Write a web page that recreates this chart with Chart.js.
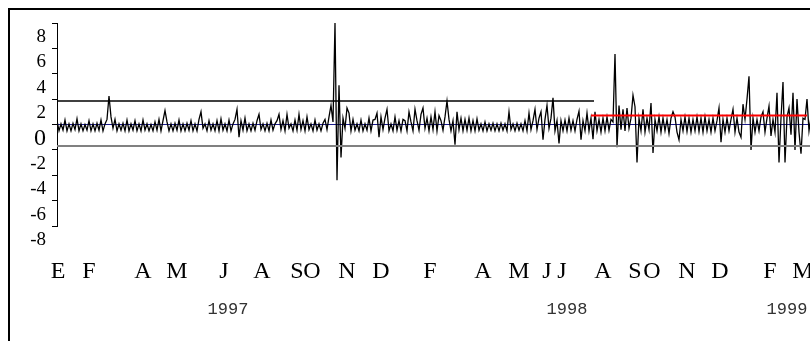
<!DOCTYPE html>
<html>
<head>
<meta charset="utf-8">
<script src="https://cdn.jsdelivr.net/npm/chart.js@4.4.0/dist/chart.umd.min.js"></script>
<style>
  html, body { margin: 0; padding: 0; background: #fff; overflow: hidden; width: 810px; height: 341px; }
  #wrap { width: 870px; height: 341px; }
</style>
</head>
<body>
<div id="wrap"><canvas id="myReturnsChart" width="870" height="341"></canvas></div>
<script>
// daily series, one value per observation (index = observation number)
const returns = [
  0.3, -0.5, 0.05, -0.45, 0.35, -0.5, 0.05, -0.5, 0.1, -0.4, 0.45, -0.5, 0.05, -0.5, 0.0, -0.45, 0.3, -0.5, 0.05, -0.5,
  0.1, -0.45, 0.35, -0.5, 0.05, 0.4, 2.25, 0.6, -0.3, 0.4, -0.5, 0.05, -0.45, 0.1, -0.5, 0.35, -0.5, 0.05, -0.45, 0.3,
  -0.5, 0.05, -0.5, 0.35, -0.45, 0.05, -0.5, 0.0, -0.5, 0.2, -0.45, 0.4, -0.5, 0.3, 1.1, 0.2, -0.5, 0.05, -0.5, 0.1,
  -0.45, 0.35, -0.5, 0.05, -0.5, 0.1, -0.45, 0.3, -0.5, 0.05, -0.5, 0.4, 1.0, -0.3, 0.05, -0.5, 0.3, -0.45, 0.05, -0.5,
  0.3, -0.5, 0.45, -0.45, 0.05, -0.5, 0.35, -0.5, 0.05, 0.4, 1.2, -1.0, 0.3, -0.45, 0.5, -0.5, 0.05, -0.5, 0.1, -0.45,
  0.3, 0.8, -0.4, 0.05, -0.5, 0.1, -0.5, 0.35, -0.45, 0.05, 0.3, 0.8, -0.4, 0.3, -0.5, 0.8, -0.3, 0.05, -0.5, 0.35,
  -0.45, 0.8, -0.4, 0.3, -0.5, 0.6, -0.4, 0.05, -0.5, 0.35, -0.45, 0.05, -0.5, 0.1, 0.4, -0.4, 0.6, 1.5, 0.2, 8.0,
  -4.4, 3.1, -2.6, 0.5, -0.3, 1.3, 0.9, -0.5, 0.4, -0.45, 0.05, -0.5, 0.35, -0.5, 0.05, -0.45, 0.5, -0.5, 0.35, 0.4,
  0.9, -1.0, 0.6, -0.4, 0.5, 1.2, -0.5, 0.05, -0.5, 0.6, -0.45, 0.3, -0.5, 0.4, 0.3, -0.5, 1.0, 0.2, -0.5, 1.2,
  0.3, -0.45, 0.8, 1.3, -0.3, 0.5, -0.5, 0.6, -0.4, 1.0, -0.5, 0.7, 0.3, -0.45, 0.6, 1.85, 0.4, -0.5, 0.3, -1.6,
  1.0, -0.4, 0.5, -0.5, 0.4, -0.45, 0.5, -0.5, 0.3, -0.5, 0.45, -0.45, 0.05, -0.5, 0.2, -0.5, 0.05, -0.45, 0.1, -0.5,
  0.05, -0.5, 0.1, -0.45, 0.05, -0.5, 1.0, -0.4, 0.05, -0.5, 0.1, -0.45, 0.05, -0.5, 0.3, -0.5, 0.9, -0.4, 0.3, 1.2,
  -0.4, 0.5, 1.0, -1.2, 0.4, 1.5, -0.3, 0.5, 2.1, -0.5, 0.3, -1.5, 0.3, -0.5, 0.35, -0.5, 0.5, -0.45, 0.3, -0.5,
  0.4, 1.05, -1.2, 0.3, -0.5, 0.9, -0.5, 0.5, -1.15, 1.0, -0.5, 0.4, -0.6, 0.5, -0.5, 0.6, -0.45, 0.4, 0.2, 5.55,
  -1.8, 1.5, -0.4, 1.2, -0.5, 1.3, -0.3, 0.5, 2.3, 1.4, -3.0, 0.5, -0.5, 1.2, -0.6, 0.5, -0.4, 1.7, -2.25, 0.4,
  -0.5, 0.6, -0.6, 0.5, -0.5, 0.4, -0.7, 0.5, 1.0, 0.6, -0.6, -1.2, 0.4, -0.5, 0.6, -0.55, 0.5, -0.6, 0.4, -0.5,
  0.6, -0.55, 0.5, -0.6, 0.6, -0.5, 0.4, -0.6, 0.5, -0.5, 0.3, 1.3, -1.4, 0.4, -0.6, 0.5, -0.5, 0.4, 1.2, -0.6,
  0.5, -0.6, -1.0, 1.6, 0.4, 2.0, 3.8, -2.0, 0.5, -0.6, 0.4, -0.5, 0.6, 1.0, -0.6, 0.5, 1.45, -0.9, 0.4, -0.6,
  2.5, -3.0, 0.5, 3.35, -3.0, 0.6, 1.3, -0.8, 2.5, -2.0, 2.0, -0.6, -2.3, 0.5, 0.4, 2.0, -0.5, 0.6, -0.6, 0.5,
  -0.5, 0.6, -0.6, 0.5, -0.5, 0.4, -0.6, 0.5, -0.5, 0.4,
];

// month initials (Spanish) and the observation where each month starts
const monthLabels = ["E", "F", "A", "M", "J", "A", "S", "O", "N", "D", "F", "A", "M", "J", "J", "A", "S", "O", "N", "D", "F", "M"];
const monthTicks = [0.5, 16, 43, 60, 83.5, 102.5, 120, 127.5, 145, 162, 186.5, 213, 231, 245, 252.5, 273, 289, 297.5, 315, 331.5, 356.5, 373];
const yearLabels = ["1997", "1998", "1999"];
const yearTicks = [85.5, 255, 365];

// control limits: level and [start, end] observation
const meanLevel = 0;
const meanSpan = [0, 400];
const upperLimit = 1.85;
const upperSpan = [0, 268.5];
const upperLimitNew = 0.71;
const upperNewSpan = [267, 375];
const lowerLimit = -1.7;
const lowerSpan = [0, 400];

const flatLine = (level, span) => span.map((x) => ({ x: x, y: level }));

const framePlugin = {
  id: "frame",
  afterDraw(chart) {
    const ctx = chart.ctx;
    ctx.save();
    ctx.strokeStyle = "#000";
    ctx.lineWidth = 2;
    ctx.strokeRect(9, 9, 1200, 1200);
    ctx.restore();
  },
};

const myReturnsChart = document.getElementById("myReturnsChart").getContext("2d");
const chart = new Chart(myReturnsChart, {
  type: "line",
  data: {
    datasets: [
      {
        data: flatLine(upperLimitNew, upperNewSpan),
        borderColor: "#ff0000",
        borderWidth: 2,
      },
      {
        data: flatLine(upperLimit, upperSpan),
        borderColor: "#000000",
        borderWidth: 1.5,
      },
      {
        data: flatLine(lowerLimit, lowerSpan),
        borderColor: "#808080",
        borderWidth: 2,
      },
      {
        data: returns.map((v, i) => ({ x: i, y: v })),
        borderColor: "#000000",
        borderWidth: 1.3,
      },
      {
        data: flatLine(meanLevel, meanSpan),
        borderColor: "#1a1a8c",
        borderWidth: 1,
      },
    ],
  },
  options: {
    responsive: false,
    animation: false,
    layout: {
      padding: { top: 23, right: 13, bottom: 18, left: 0 },
    },
    elements: {
      point: { radius: 0 },
      line: { tension: 0 },
    },
    plugins: {
      legend: { display: false },
      tooltip: { enabled: false },
    },
    scales: {
      x: {
        type: "linear",
        position: "bottom",
        min: 0,
        max: 400,
        grid: { display: false, drawTicks: false },
        border: { display: false },
        afterBuildTicks: (scale) => {
          scale.ticks = monthTicks.map((v) => ({ value: v }));
        },
        afterFit: (scale) => {
          scale.height = 67;
        },
        ticks: {
          autoSkip: false,
          maxRotation: 0,
          padding: 31,
          color: "#000",
          font: { family: "Liberation Serif", size: 24 },
          callback: (value, index) => monthLabels[index],
        },
      },
      x2: {
        type: "linear",
        position: "bottom",
        min: 0,
        max: 400,
        grid: { display: false, drawTicks: false },
        border: { display: false },
        afterBuildTicks: (scale) => {
          scale.ticks = yearTicks.map((v) => ({ value: v }));
        },
        afterFit: (scale) => {
          scale.height = 30;
        },
        ticks: {
          autoSkip: false,
          maxRotation: 0,
          padding: 6,
          color: "#333",
          font: { family: "Liberation Mono", size: 17 },
          callback: (value, index) => yearLabels[index],
        },
      },
      y: {
        min: -8,
        max: 8,
        grid: {
          display: true,
          drawOnChartArea: false,
          drawTicks: true,
          tickLength: 5,
          color: "#000",
        },
        border: { display: true, color: "#000", width: 1 },
        afterFit: (scale) => {
          scale.width = 57;
        },
        ticks: {
          stepSize: 2,
          autoSkip: false,
          padding: 6,
          labelOffset: 14,
          color: "#000",
          font: (c) => ({
            family: "Liberation Serif",
            size: c.tick && c.tick.value === 0 ? 24 : 19,
          }),
        },
      },
    },
  },
  plugins: [framePlugin],
});
</script>
</body>
</html>
